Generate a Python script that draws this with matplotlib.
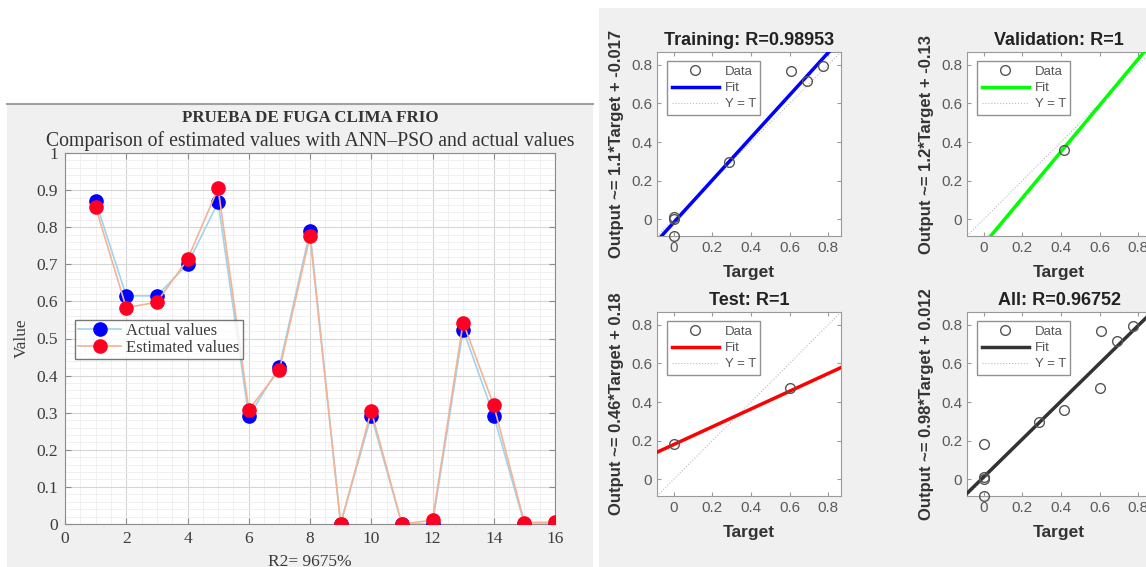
import numpy as np
import matplotlib
matplotlib.use("Agg")
import matplotlib.pyplot as plt
from matplotlib.patches import Rectangle
from matplotlib.lines import Line2D
from matplotlib.ticker import MultipleLocator

# datos del panel izquierdo
muestras = list(range(1, 17))
actual = [0.870, 0.615, 0.615, 0.700, 0.867, 0.290, 0.424, 0.789, 0.0, 0.292,
          0.0, 0.0, 0.524, 0.292, 0.0, 0.0]
estimado = [0.854, 0.583, 0.598, 0.713, 0.905, 0.308, 0.415, 0.776, 0.0, 0.305,
            0.0, 0.010, 0.543, 0.320, 0.004, 0.005]

# datos de regresion (target, output)
train_t = [0.0, 0.0, 0.0, 0.287, 0.606, 0.693, 0.776]
train_o = [0.0, 0.01, -0.085, 0.295, 0.771, 0.718, 0.797]
val_t = [0.416, 0.867]
val_o = [0.361, 0.867]
test_t = [0.0, 0.603]
test_o = [0.185, 0.471]
all_t = train_t + val_t + test_t
all_o = train_o + val_o + test_o

paneles = [
    ("Training: R=0.98953", train_t, train_o, 1.1, -0.017, "#0000ff",
     "Output ~= 1.1*Target + -0.017"),
    ("Validation: R=1", val_t, val_o, 1.2, -0.13, "#00ff00",
     "Output ~= 1.2*Target + -0.13"),
    ("Test: R=1", test_t, test_o, 0.46, 0.18, "#ff0000",
     "Output ~= 0.46*Target + 0.18"),
    ("All: R=0.96752", all_t, all_o, 0.98, 0.012, "#333333",
     "Output ~= 0.98*Target + 0.012"),
]
lim = (-0.087, 0.867)

W, H = 1146, 567
fig = plt.figure(figsize=(W / 100, H / 100), dpi=100)
fig.patch.set_facecolor("white")

def fx(px):
    return px / W

def fy(py):
    return 1 - py / H

# fondos grises
fig.patches.append(Rectangle((fx(7), 0), fx(593) - fx(7), fy(104), transform=fig.transFigure,
                             facecolor="#f0f0f0", edgecolor="none", zorder=-5))
fig.lines.append(Line2D([fx(7), fx(593)], [fy(104), fy(104)], transform=fig.transFigure,
                        color="#a0a0a0", lw=1.5))
fig.patches.append(Rectangle((fx(599), 0), 1 - fx(599), fy(8), transform=fig.transFigure,
                             facecolor="#f0f0f0", edgecolor="none", zorder=-5))

# ---- panel izquierdo ----
serif = "Liberation Serif"
ax = fig.add_axes([fx(65), fy(524), fx(555) - fx(65), fy(153) - fy(524)])
ax.set_facecolor("white")
ax.plot(muestras, actual, "-o", color="#9fd3ef", lw=1.2, markerfacecolor="#0000ff",
        markeredgecolor="#0000ff", markersize=9.5, label="Actual values", zorder=3)
ax.plot(muestras, estimado, "-o", color="#f4b393", lw=1.2, markerfacecolor="#ff0022",
        markeredgecolor="#ff0022", markersize=9.5, label="Estimated values", zorder=4)
ax.set_xlim(0, 16)
ax.set_ylim(0, 1)
ax.xaxis.set_major_locator(MultipleLocator(2))
ax.xaxis.set_minor_locator(MultipleLocator(0.5))
ax.yaxis.set_minor_locator(MultipleLocator(0.02))
ax.set_yticks(np.arange(0, 1.01, 0.1))
ax.set_yticklabels(["0"] + ["%.1f" % v for v in np.arange(0.1, 0.95, 0.1)] + ["1"])
ax.grid(True, which="major", color="#d6d6d6", lw=0.8)
ax.grid(True, which="minor", color="#eeeeee", lw=0.6)
ax.set_axisbelow(True)
ax.tick_params(which="both", direction="in", top=True, right=True, colors="#8c8c8c",
               labelcolor="#3c3c3c", labelsize=12.5)
ax.tick_params(which="minor", length=0)
ax.tick_params(which="major", length=4, pad=5)
for lbl in ax.get_xticklabels() + ax.get_yticklabels():
    lbl.set_family(serif)
for s in ax.spines.values():
    s.set_color("#8c8c8c")
ax.set_ylabel("Value", family=serif, fontsize=12.5, color="#3c3c3c")
ax.yaxis.set_label_coords(-0.072, 0.5)
ax.set_xlabel("R2= 9675%", family=serif, fontsize=12.5, color="#3c3c3c")
ax.xaxis.set_label_coords(0.5, -0.08)
ax.text(0.5, 1.094, "PRUEBA DE FUGA CLIMA FRIO", transform=ax.transAxes, ha="center",
        va="center", family=serif, fontweight="bold", fontsize=12.2, color="#333333")
ax.text(0.5, 1.032, "Comparison of estimated values with ANN\u2013PSO and actual values",
        transform=ax.transAxes, ha="center", va="center", family=serif, fontsize=14.2,
        color="#333333")
leg = ax.legend(loc="upper left", bbox_to_anchor=(0.02, 0.55), prop={"family": serif, "size": 12},
                frameon=True, fancybox=False, borderpad=0.2, labelspacing=0.05,
                handlelength=2.6, handletextpad=0.3, borderaxespad=0)
leg.get_frame().set_edgecolor("#555555")
leg.get_frame().set_linewidth(1.0)
for t in leg.get_texts():
    t.set_color("#3c3c3c")

# ---- paneles de regresion ----
pos = [(657, 52), (967, 52), (657, 312), (967, 312)]
sans = "Liberation Sans"
for (titulo, tt, oo, m, b, col, ylab), (px, py) in zip(paneles, pos):
    a = fig.add_axes([fx(px), fy(py + 184), fx(184), 184 / H])
    a.set_facecolor("white")
    xs = np.array(lim)
    a.plot(xs, m * xs + b, color=col, lw=2.5, label="Fit", zorder=3)
    a.plot(xs, xs, color="#bcbcbc", lw=0.8, ls=":", label="Y = T", zorder=2)
    a.plot(tt, oo, "o", markerfacecolor="none", markeredgecolor="#555555", markersize=7,
           mew=1.0, label="Data", zorder=4, clip_on=False)
    a.set_xlim(lim)
    a.set_ylim(lim)
    a.set_xticks([0, 0.2, 0.4, 0.6, 0.8])
    a.set_yticks([0, 0.2, 0.4, 0.6, 0.8])
    a.set_xticklabels(["0", "0.2", "0.4", "0.6", "0.8"])
    a.set_yticklabels(["0", "0.2", "0.4", "0.6", "0.8"])
    a.tick_params(direction="in", top=True, right=True, length=3, colors="#9a9a9a",
                  labelcolor="#5a5a5a", labelsize=11)
    for lbl in a.get_xticklabels() + a.get_yticklabels():
        lbl.set_family(sans)
    for s in a.spines.values():
        s.set_color("#9a9a9a")
    a.set_title(titulo, family=sans, fontweight="bold", fontsize=13, color="#222222", pad=5)
    a.set_xlabel("Target", family=sans, fontweight="bold", fontsize=12.5, color="#333333")
    a.xaxis.set_label_coords(0.5, -0.16)
    a.set_ylabel(ylab, family=sans, fontweight="bold", fontsize=12, color="#333333")
    a.yaxis.set_label_coords(-0.18, 0.5)
    h, l = a.get_legend_handles_labels()
    order = [2, 0, 1]
    lg = a.legend([h[i] for i in order], [l[i] for i in order], loc="upper left",
                  bbox_to_anchor=(0.055, 0.95), prop={"family": sans, "size": 9.5},
                  frameon=True, fancybox=False, borderpad=0.35, labelspacing=0.3,
                  handlelength=3.6, handletextpad=0.4, borderaxespad=0)
    lg.get_frame().set_edgecolor("#777777")
    lg.get_frame().set_linewidth(1.0)
    for t in lg.get_texts():
        t.set_color("#555555")

fig.savefig("out.png", dpi=100)
